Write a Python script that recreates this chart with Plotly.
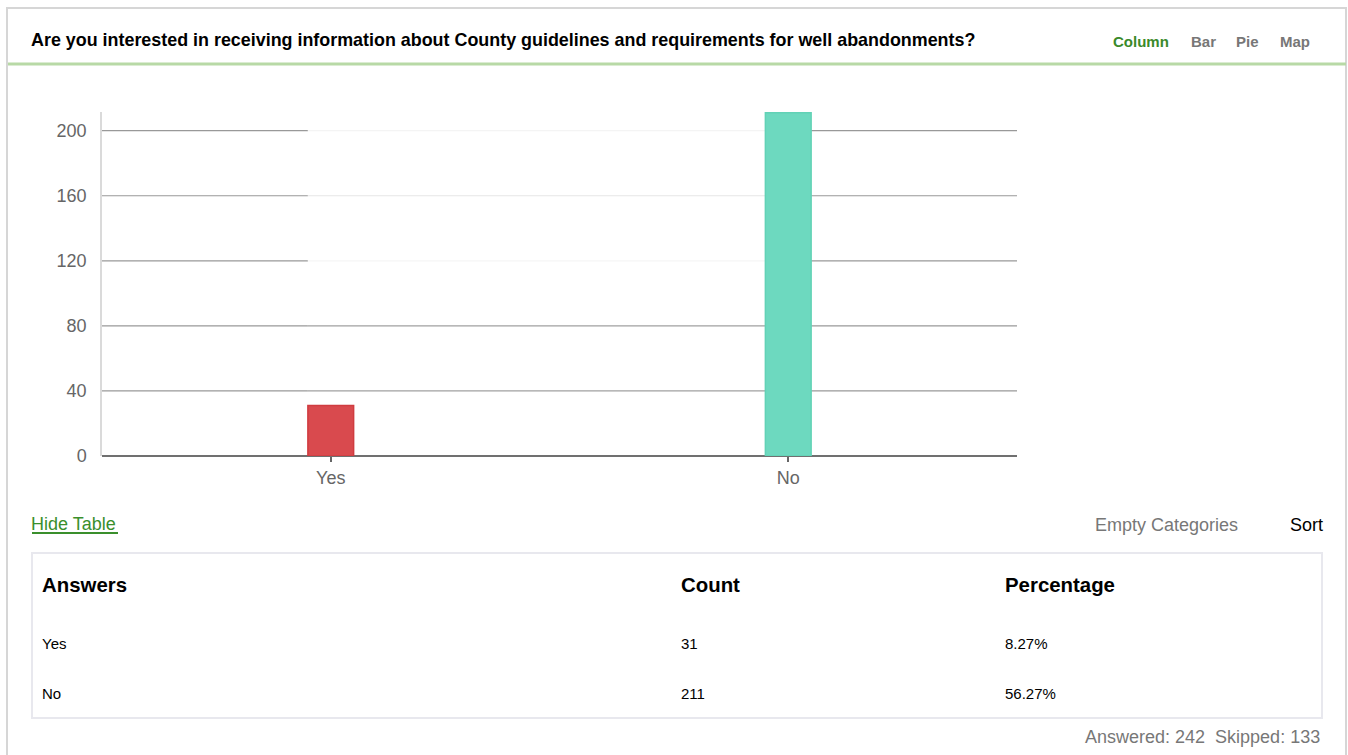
import plotly.graph_objects as go

# ---- data ----
categories = ["Yes", "No"]
counts = [31, 211]
percentages = ["8.27%", "56.27%"]
y_ticks = [0, 40, 80, 120, 160, 200]
title_text = "Are you interested in receiving information about County guidelines and requirements for well abandonments?"
answered = 242
skipped = 133

W, H = 1348, 755
H_EFF = 745  # effective rendered height used for pixel placement
FONT = "Liberation Sans, Arial, sans-serif"


def px(x):
    return x / W


def py(y):
    return 1 - y / H_EFF


bar_fill = ["#d94a4e", "#6dd9bf"]
bar_line = ["#d03c40", "#62d2b6"]

fig = go.Figure()
fig.add_trace(go.Bar(
    x=categories, y=counts, width=0.1,
    marker=dict(color=bar_fill, line=dict(color=bar_line, width=1.5)),
    hoverinfo="x+y",
))

shapes = []
# gridlines (dark outside the bar span, faint between)
mid_colors = {200: "#f4f4f4", 160: "#e6e6e6", 120: "#f6f6f6", 80: "#a0a0a0", 40: "#a0a0a0"}
for t in y_ticks:
    if t == 0:
        continue
    for x0, x1, c in [(-0.5, -0.05, "#999999"), (-0.05, 1.05, mid_colors.get(t, "#eeeeee")), (1.05, 1.5, "#999999")]:
        shapes.append(dict(type="line", xref="x", yref="y", x0=x0, x1=x1, y0=t, y1=t,
                           line=dict(color=c, width=1.2), layer="below"))

# outer frame
shapes.append(dict(type="rect", xref="paper", yref="paper", x0=px(7), x1=px(1346), y0=py(8), y1=py(790),
                   line=dict(color="#d6d6d6", width=2), layer="below"))
# green header underline
shapes.append(dict(type="line", xref="paper", yref="paper", x0=px(8), x1=px(1346), y0=py(64), y1=py(64),
                   line=dict(color="#b8d9a6", width=3)))
# table box
shapes.append(dict(type="rect", xref="paper", yref="paper", x0=px(32), x1=px(1322), y0=py(553), y1=py(718),
                   line=dict(color="#e8e8ee", width=2), layer="below"))
# Hide Table underline
shapes.append(dict(type="line", xref="paper", yref="paper", x0=px(32), x1=px(118), y0=py(533), y1=py(533),
                   line=dict(color="#3a8f2c", width=2)))

ann = []


def text(x, y, s, size, color, bold=False, xanchor="left"):
    ann.append(dict(x=px(x), y=py(y), xref="paper", yref="paper", text=("<b>%s</b>" % s) if bold else s,
                    showarrow=False, xanchor=xanchor, yanchor="middle", borderpad=0,
                    font=dict(family=FONT, size=size, color=color)))


text(30, 40, title_text, 17.9, "#000000", bold=True)
text(1112, 42, "Column", 15, "#3a8a2a", bold=True)
text(1190, 42, "Bar", 15, "#777777", bold=True)
text(1235, 42, "Pie", 15, "#777777", bold=True)
text(1279, 42, "Map", 15, "#777777", bold=True)

text(30, 524, "Hide Table", 18, "#3a8f2c")
text(1239, 525, "Empty Categories", 18, "#777777", xanchor="right")
text(1324, 525, "Sort", 18, "#000000", xanchor="right")

text(41, 585, "Answers", 20.4, "#000000", bold=True)
text(680, 585, "Count", 20.4, "#000000", bold=True)
text(1004, 585, "Percentage", 20.4, "#000000", bold=True)
row_y = [643, 693]
for cat, cnt, pct, yy in zip(categories, counts, percentages, row_y):
    text(41, yy, cat, 15, "#000000")
    text(680, yy, str(cnt), 15, "#000000")
    text(1004, yy, pct, 15, "#000000")

text(1321, 737, "Answered: %d&nbsp;&nbsp;Skipped: %d" % (answered, skipped), 18, "#777777", xanchor="right")

fig.update_layout(
    width=W, height=H,
    margin=dict(l=0, r=0, t=0, b=0),
    paper_bgcolor="#ffffff", plot_bgcolor="#ffffff",
    showlegend=False,
    shapes=shapes, annotations=ann,
    font=dict(family=FONT),
    xaxis=dict(domain=[px(102), px(1017)], range=[-0.5, 1.5], showgrid=False, zeroline=False,
               showline=False, ticks="outside", ticklen=5, tickwidth=2, tickcolor="#666666",
               tickfont=dict(size=18, color="#666666", family=FONT), fixedrange=True),
    yaxis=dict(domain=[py(456), py(112)], range=[0, 211.5], tickvals=y_ticks, showgrid=False,
               zeroline=True, zerolinecolor="#707070", zerolinewidth=2,
               showline=True, linecolor="#dadada", linewidth=1.5,
               ticks="", ticklabelstandoff=10,
               tickfont=dict(size=18, color="#666666", family=FONT), fixedrange=True),
)

fig.write_html("out.html", config={"displayModeBar": False},
               post_script="document.body.style.margin='0';document.body.style.overflow='hidden';")
